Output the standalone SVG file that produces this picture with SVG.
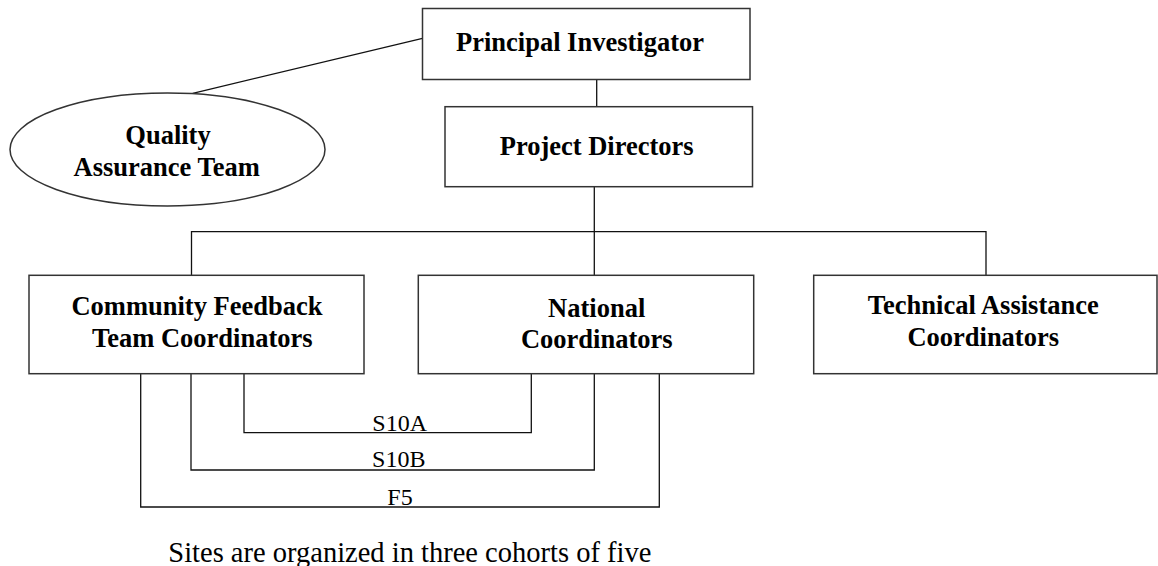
<svg xmlns="http://www.w3.org/2000/svg" width="1158" height="566" viewBox="0 0 1158 566">
  <style>
    .box { fill: #ffffff; stroke: #333333; stroke-width: 1.5; }
    .conn { fill: none; stroke: #111111; stroke-width: 1.3; }
    .bold { font-family: "Liberation Serif", "Times New Roman", serif; font-weight: bold; font-size: 26.5px; fill: #000000; text-anchor: middle; }
    .lab { font-family: "Liberation Serif", "Times New Roman", serif; font-size: 24px; fill: #000000; text-anchor: middle; }
    .note { font-family: "Liberation Serif", "Times New Roman", serif; font-size: 28.5px; fill: #000000; }
  </style>
  <rect width="1158" height="566" fill="#ffffff"/>
  <g id="connectors">
    <line class="conn" x1="192.7" y1="93.3" x2="422.5" y2="38.3"/>
    <line class="conn" x1="596.7" y1="79.3" x2="596.7" y2="106.7"/>
    <line class="conn" x1="594.3" y1="186.7" x2="594.3" y2="231.7"/>
    <path class="conn" d="M191.5,275.3 V231.7 H986 V275.3"/>
    <line class="conn" x1="594.3" y1="231.7" x2="594.3" y2="275.3"/>
    <path class="conn" d="M244,373.7 V432.7 H531.3 V373.7"/>
    <path class="conn" d="M191,373.7 V470 H594.3 V373.7"/>
    <path class="conn" d="M140.7,373.7 V507 H659.3 V373.7"/>
    <text class="lab" x="399.7" y="431">S10A</text>
    <text class="lab" x="398.8" y="467.3">S10B</text>
    <text class="lab" x="400" y="505">F5</text>
  </g>
  <g id="principal-investigator">
    <rect class="box" x="422.5" y="8.5" width="327.5" height="71"/>
    <text class="bold" x="580" y="50.7">Principal Investigator</text>
  </g>
  <g id="quality-assurance-team">
    <ellipse class="box" cx="167.5" cy="149.5" rx="157.5" ry="56.5"/>
    <text class="bold" x="168" y="143.5">Quality</text>
    <text class="bold" x="166.7" y="175.7">Assurance Team</text>
  </g>
  <g id="project-directors">
    <rect class="box" x="445" y="106.7" width="307.5" height="80"/>
    <text class="bold" x="596.7" y="155">Project Directors</text>
  </g>
  <g id="community-feedback">
    <rect class="box" x="29" y="275.3" width="335" height="98.4"/>
    <text class="bold" x="197" y="315">Community Feedback</text>
    <text class="bold" x="202.3" y="346.7">Team Coordinators</text>
  </g>
  <g id="national-coordinators">
    <rect class="box" x="418.3" y="275.3" width="335.4" height="98.4"/>
    <text class="bold" x="596.7" y="316.7">National</text>
    <text class="bold" x="596.8" y="348.3">Coordinators</text>
  </g>
  <g id="technical-assistance">
    <rect class="box" x="813.7" y="275.3" width="343.3" height="98.4"/>
    <text class="bold" x="983.3" y="314">Technical Assistance</text>
    <text class="bold" x="983.2" y="346">Coordinators</text>
  </g>
  <text class="note" x="168.3" y="561.7">Sites are organized in three cohorts of five</text>
</svg>
